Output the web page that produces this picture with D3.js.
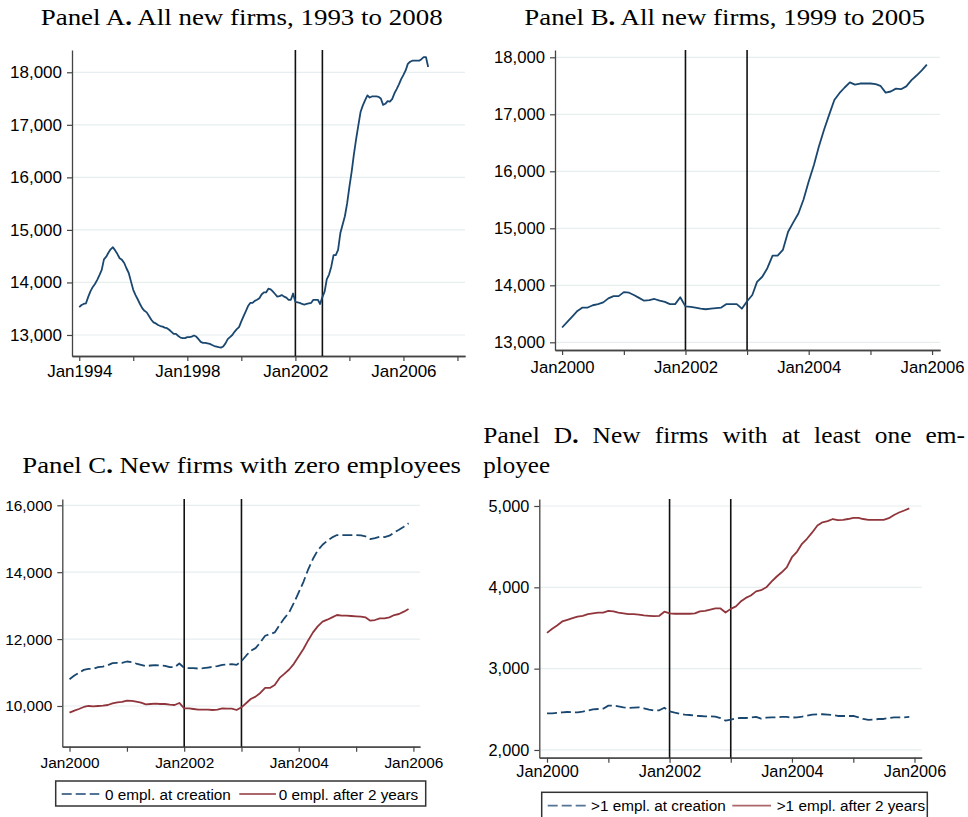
<!DOCTYPE html>
<html>
<head>
<meta charset="utf-8">
<script src="https://cdn.jsdelivr.net/npm/d3@7"></script>
<style>
body{margin:0;background:#fff;}
svg text{font-family:"Liberation Sans",Arial,sans-serif;fill:#000;}
svg text.title{font-family:"Liberation Serif","Times New Roman",serif;}
</style>
</head>
<body>
<script>
// monthly counts of new firms
var allFirms1994to1999 = [
  13530,13570,13590,13600,13720,13830,13910,13970,14050,14140,14240,14440,
  14490,14570,14630,14670,14610,14540,14460,14430,14370,14270,14180,14020,
  13860,13760,13680,13590,13510,13460,13430,13360,13290,13240,13220,13190,
  13170,13160,13140,13130,13100,13060,13020,13020,12980,12950,12940,12940,
  12960,12960,12970,12990,12970,12920,12870,12850,12850,12840,12830,12810,
  12790,12780,12770,12760,12780,12840,12920,12960,13000,13060,13110,13150];
var allFirms2000to2005 = [
  13260,13360,13450,13550,13610,13610,13650,13670,13700,13770,13810,13810,
  13880,13870,13830,13780,13730,13740,13760,13730,13710,13670,13670,13790,
  13630,13620,13610,13590,13580,13590,13600,13610,13670,13670,13670,13590,
  13720,13830,14060,14150,14300,14520,14520,14620,14940,15100,15260,15500,
  15820,16110,16430,16730,16990,17250,17370,17470,17560,17520,17540,17540,
  17540,17530,17500,17380,17400,17450,17440,17490,17600,17680,17770,17870];
var allFirms2006 = [17950,18040,18160,18200,18220,18220,18220,18220,18250,18290,18290,18100];

var zeroEmplAtCreation = [
  10800,10910,10990,11080,11110,11110,11160,11180,11220,11280,11290,11290,
  11330,11310,11270,11230,11190,11210,11220,11210,11200,11160,11160,11270,
  11140,11130,11130,11120,11130,11150,11170,11190,11230,11240,11250,11230,
  11340,11510,11650,11730,11900,12100,12150,12200,12420,12620,12800,13080,
  13400,13720,14080,14400,14650,14820,14940,15040,15110,15110,15110,15110,
  15110,15100,15070,14990,15020,15060,15050,15090,15190,15270,15360,15460];
var zeroEmplAfter2Years = [
  9800,9860,9910,9970,10000,9990,10000,10010,10030,10080,10110,10120,
  10160,10150,10130,10100,10050,10060,10070,10060,10060,10040,10030,10090,
  9930,9930,9910,9890,9890,9890,9880,9890,9930,9920,9920,9880,
  9960,10090,10210,10280,10390,10540,10540,10630,10840,10960,11090,11260,
  11490,11710,11960,12200,12380,12520,12580,12650,12720,12700,12700,12690,
  12680,12670,12650,12550,12570,12620,12620,12650,12720,12750,12820,12900];
var oneEmplAtCreation = [
  2450,2450,2455,2463,2467,2463,2463,2471,2484,2500,2504,2508,
  2545,2545,2537,2525,2516,2520,2525,2512,2496,2484,2488,2520,
  2475,2459,2447,2434,2430,2422,2418,2414,2414,2410,2393,2361,
  2373,2389,2393,2393,2398,2406,2385,2398,2402,2402,2406,2406,
  2398,2402,2410,2422,2434,2439,2439,2434,2430,2418,2418,2418,
  2418,2402,2381,2369,2373,2381,2381,2393,2402,2402,2402,2406];
var oneEmplAfter2Years = [
  3440,3490,3530,3580,3600,3620,3640,3650,3670,3680,3690,3690,
  3710,3705,3690,3680,3670,3670,3665,3655,3650,3645,3650,3700,
  3680,3675,3675,3675,3675,3680,3705,3710,3725,3740,3740,3690,
  3735,3765,3825,3870,3900,3950,3965,4000,4070,4130,4185,4245,
  4370,4440,4535,4600,4675,4760,4800,4815,4840,4825,4830,4840,
  4855,4855,4840,4830,4830,4830,4830,4850,4890,4920,4945,4970];

var reformDates = [new Date(2002, 0, 1), new Date(2003, 0, 1)];
var navy = "#1a476f", maroon = "#90353b";

function monthly(startYear, values){
  return values.map(function(v, i){ return {date: new Date(startYear, i, 1), value: v}; });
}
function years(list){ return list.map(function(y){ return new Date(y, 0, 1); }); }

var allFirms = monthly(1994, allFirms1994to1999.concat(allFirms2000to2005, allFirms2006));
var allFirmsB = monthly(2000, allFirms2000to2005);

var svg = d3.select("body").append("svg").attr("width", 968).attr("height", 817);

function drawPanel(cfg){
  var g = svg.append("g");
  var x = d3.scaleTime().domain(cfg.xDomain).range([cfg.left, cfg.right]);
  var y = d3.scaleLinear().domain(cfg.yDomain).range([cfg.bottom, cfg.top]);

  g.selectAll("line.grid").data(cfg.yTicks).enter().append("line")
    .attr("class", "grid")
    .attr("x1", cfg.left).attr("x2", cfg.right)
    .attr("y1", function(d){ return y(d); }).attr("y2", function(d){ return y(d); })
    .attr("stroke", "#e6eef0").attr("stroke-width", 1.2);

  var yAxis = d3.axisLeft(y).tickValues(cfg.yTicks).tickSize(5).tickSizeOuter(0)
    .tickPadding(5).tickFormat(d3.format(","));
  var xAxis = d3.axisBottom(x).tickValues(years(cfg.xMajor)).tickSize(5).tickSizeOuter(0)
    .tickPadding(cfg.xPad).tickFormat(d3.timeFormat("%b%Y"));
  var xMinor = d3.axisBottom(x).tickValues(years(cfg.xMinor)).tickSize(5).tickSizeOuter(0)
    .tickFormat("");

  var ga = g.append("g").attr("transform", "translate(" + cfg.left + ",0)").call(yAxis);
  var gx = g.append("g").attr("transform", "translate(0," + cfg.bottom + ")").call(xAxis);
  var gm = g.append("g").attr("transform", "translate(0," + cfg.bottom + ")").call(xMinor);
  [ga, gx, gm].forEach(function(a){
    a.selectAll("path.domain").attr("stroke", "#444").attr("stroke-width", 1.3);
    a.selectAll(".tick line").attr("stroke", "#444").attr("stroke-width", 1.2);
    a.selectAll(".tick text").attr("font-size", cfg.font).attr("fill", "#000")
      .attr("font-family", "Liberation Sans, Arial, sans-serif");
  });

  g.selectAll("line.reform").data(reformDates).enter().append("line")
    .attr("class", "reform")
    .attr("x1", function(d){ return x(d); }).attr("x2", function(d){ return x(d); })
    .attr("y1", cfg.top).attr("y2", cfg.bottom)
    .attr("stroke", "#111").attr("stroke-width", 1.6);

  var line = d3.line().x(function(d){ return x(d.date); }).y(function(d){ return y(d.value); });
  cfg.series.forEach(function(s){
    g.append("path").datum(s.data).attr("d", line).attr("fill", "none")
      .attr("stroke", s.color).attr("stroke-width", 1.8)
      .attr("stroke-linejoin", "round")
      .attr("stroke-dasharray", s.dash ? "10,4" : null);
  });

  if (cfg.legend){
    var L = cfg.legend;
    g.append("rect").attr("x", L.x).attr("y", L.y).attr("width", L.w).attr("height", L.h)
      .attr("fill", "#fff").attr("stroke", "#333").attr("stroke-width", 1.5);
    L.items.forEach(function(it, i){
      g.append("line").attr("x1", it.x1).attr("x2", it.x2).attr("y1", L.ly).attr("y2", L.ly)
        .attr("stroke", cfg.series[i].color).attr("stroke-width", 1.8).attr("opacity", 0.75)
        .attr("stroke-dasharray", cfg.series[i].dash ? "10,4" : null);
      g.append("text").attr("x", it.tx).attr("y", L.ty).attr("font-size", 15.3).text(it.label);
    });
  }
}

function title(text, x, yb, len){
  var t = svg.append("text").attr("class", "title").attr("x", x).attr("y", yb)
    .attr("font-size", 23.5).attr("textLength", len).attr("lengthAdjust", "spacingAndGlyphs");
  var parts = text.split("|");
  t.append("tspan").text(parts[0]);
  t.append("tspan").attr("font-weight", "bold").text(".");
  t.append("tspan").text(parts[1]);
}

title("Panel A| All new firms, 1993 to 2008", 40.7, 25, 402);
title("Panel B| All new firms, 1999 to 2005", 524.3, 25, 400.7);
title("Panel C| New firms with zero employees", 22.3, 472.5, 438.7);

// Panel D title, justified over two lines
(function(){
  var words = ["Panel", "D.", "New", "firms", "with", "at", "least", "one", "em-"];
  var x0 = 483.3, x1 = 965, fs = 23.5, stretch = 1.08;
  var nodes = words.map(function(w){
    var t = svg.append("text").attr("class", "title").attr("y", 443.3).attr("font-size", fs);
    if (w === "D."){ t.append("tspan").text("D"); t.append("tspan").attr("font-weight", "bold").text("."); }
    else t.text(w);
    return t;
  });
  var widths = nodes.map(function(t){ return t.node().getComputedTextLength() * stretch; });
  var gap = (x1 - x0 - d3.sum(widths)) / (words.length - 1);
  var cx = x0;
  nodes.forEach(function(t, i){
    t.attr("x", cx).attr("textLength", widths[i]).attr("lengthAdjust", "spacingAndGlyphs");
    cx += widths[i] + gap;
  });
  svg.append("text").attr("class", "title").attr("x", x0).attr("y", 472.5)
    .attr("font-size", fs).attr("textLength", 66.7).attr("lengthAdjust", "spacingAndGlyphs").text("ployee");
})();

drawPanel({
  left: 72, right: 465, top: 50, bottom: 356,
  xDomain: [new Date(1993, 8, 25), new Date(2008, 3, 12)], yDomain: [12600, 18424],
  yTicks: [13000, 14000, 15000, 16000, 17000, 18000],
  xMajor: [1994, 1998, 2002, 2006], xMinor: [1996, 2000, 2004, 2008],
  font: 17, xPad: 3.6,
  series: [{data: allFirms, color: navy}]
});

drawPanel({
  left: 555, right: 940, top: 50, bottom: 350,
  xDomain: [new Date(1999, 10, 20), new Date(2006, 1, 17)], yDomain: [12865, 18128],
  yTicks: [13000, 14000, 15000, 16000, 17000, 18000],
  xMajor: [2000, 2002, 2004, 2006], xMinor: [2001, 2003, 2005],
  font: 16.7, xPad: 5.8,
  series: [{data: allFirmsB, color: navy}]
});

drawPanel({
  left: 62.3, right: 420, top: 499, bottom: 746.7,
  xDomain: [new Date(1999, 10, 16), new Date(2006, 1, 12)], yDomain: [8783, 16188],
  yTicks: [10000, 12000, 14000, 16000],
  xMajor: [2000, 2002, 2004, 2006], xMinor: [2001, 2003, 2005],
  font: 15.4, xPad: 5.7,
  series: [{data: monthly(2000, zeroEmplAtCreation), color: navy, dash: true},
           {data: monthly(2000, zeroEmplAfter2Years), color: maroon}],
  legend: {x: 55.7, y: 781, w: 370, h: 25, ly: 794, ty: 799.5,
    items: [{x1: 61.7, x2: 99.3, tx: 105, label: "0 empl. at creation"},
            {x1: 239.3, x2: 276, tx: 278.7, label: "0 empl. after 2 years"}]}
});

drawPanel({
  left: 539.3, right: 921.7, top: 499, bottom: 757.7,
  xDomain: [new Date(1999, 10, 16), new Date(2006, 1, 13)], yDomain: [1905, 5086],
  yTicks: [2000, 3000, 4000, 5000],
  xMajor: [2000, 2002, 2004, 2006], xMinor: [2001, 2003, 2005],
  font: 16.3, xPad: 3,
  series: [{data: monthly(2000, oneEmplAtCreation), color: navy, dash: true},
           {data: monthly(2000, oneEmplAfter2Years), color: maroon}],
  legend: {x: 541.7, y: 792.3, w: 385.6, h: 30, ly: 805.7, ty: 811,
    items: [{x1: 547.7, x2: 586.7, tx: 591, label: ">1 empl. at creation"},
            {x1: 732.3, x2: 771, tx: 776.7, label: ">1 empl. after 2 years"}]}
});
</script>
</body>
</html>
